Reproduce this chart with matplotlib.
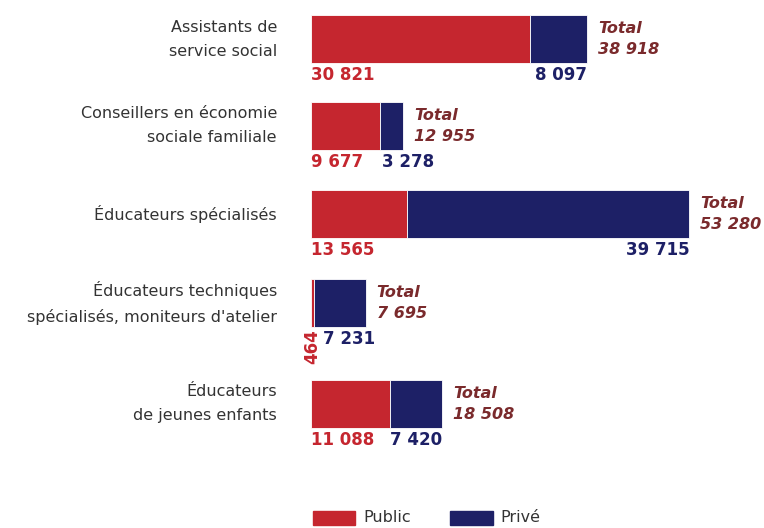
import numpy as np
import matplotlib.pyplot as plt
from matplotlib.patches import Rectangle

# Données
categories = [
    "Assistants de\nservice social",
    "Conseillers en économie\nsociale familiale",
    "Éducateurs spécialisés",
    "Éducateurs techniques\nspécialisés, moniteurs d'atelier",
    "Éducateurs\nde jeunes enfants",
]
public = [30821, 9677, 13565, 464, 11088]
prive = [8097, 3278, 39715, 7231, 7420]
total = [38918, 12955, 53280, 7695, 18508]

ROUGE = "#c5262f"
BLEU = "#1d2066"
BRUN = "#7a2a2c"
GRIS = "#333333"

def fmt(v):
    return f"{v:,}".replace(",", " ")

plt.rcParams.update({"font.family": ["DejaVu Sans"]})
fig = plt.figure(figsize=(7.64, 5.28), dpi=100)
ax = fig.add_axes([0, 0, 1, 1])

# échelle : 1 unité x ~ 0.00710 px, 1 unité y ~ 88.5 px
sx = 0.00710
sy = 88.5
ax.set_xlim(-311 / sx, (764 - 311) / sx)
ax.set_ylim((528 - 39) / sy, -39 / sy)
ax.axis("off")

y_pos = [0, 0.98, 1.98, 2.98, 4.12]
h = 48 / sy
dx = 1 / sx  # un pixel en unités x

ax.barh(y_pos, public, height=h, color=ROUGE, edgecolor="white", linewidth=0.6)
ax.barh(y_pos, prive, left=public, height=h, color=BLEU, edgecolor="white", linewidth=0.6)

for i, y in enumerate(y_pos):
    ax.text(-34 * dx, y, categories[i], ha="right", va="center",
            fontsize=11.5, color=GRIS, linespacing=1.75)
    ytxt = y + h / 2 + 3 / sy
    # étiquette public
    if public[i] < 2000:
        ax.text(public[i] / 2, ytxt, fmt(public[i]), ha="center", va="top",
                rotation=90, fontsize=12, fontweight="bold", color=ROUGE)
    else:
        ax.text(0, ytxt, fmt(public[i]), ha="left", va="top",
                fontsize=12, fontweight="bold", color=ROUGE)
    # étiquette privé
    if prive[i] < 5000:
        ax.text(public[i] + 2 * dx, ytxt, fmt(prive[i]), ha="left", va="top",
                fontsize=12, fontweight="bold", color=BLEU)
    elif prive[i] < 7400:
        ax.text(public[i] + 9 * dx, ytxt, fmt(prive[i]), ha="left", va="top",
                fontsize=12, fontweight="bold", color=BLEU)
    else:
        ax.text(total[i], ytxt, fmt(prive[i]), ha="right", va="top",
                fontsize=12, fontweight="bold", color=BLEU)
    # total
    ax.text(total[i] + 11 * dx, y, "Total\n" + fmt(total[i]), ha="left", va="center",
            fontsize=11.5, fontweight="bold", style="italic", color=BRUN, linespacing=1.5)

# légende
ly = (518 - 39) / sy
lh = 14 / sy
ax.add_patch(Rectangle((2 * dx, ly - lh / 2), 42 * dx, lh, color=ROUGE, clip_on=False))
ax.text(52 * dx, ly, "Public", ha="left", va="center", fontsize=11.5, color=GRIS)
ax.add_patch(Rectangle((139 * dx, ly - lh / 2), 43 * dx, lh, color=BLEU, clip_on=False))
ax.text(189 * dx, ly, "Privé", ha="left", va="center", fontsize=11.5, color=GRIS)

plt.savefig("out.png", dpi=100)
